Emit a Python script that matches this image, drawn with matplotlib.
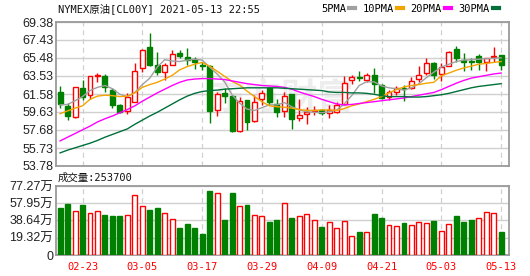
import numpy as np
import matplotlib.pyplot as plt
from matplotlib.lines import Line2D

# trading days shown (60 bars)
dates = ['02-18', '02-19', '02-22', '02-23', '02-24', '02-25', '02-26',
         '03-01', '03-02', '03-03', '03-04', '03-05',
         '03-08', '03-09', '03-10', '03-11', '03-12',
         '03-15', '03-16', '03-17', '03-18', '03-19',
         '03-22', '03-23', '03-24', '03-25', '03-26',
         '03-29', '03-30', '03-31', '04-01',
         '04-05', '04-06', '04-07', '04-08', '04-09',
         '04-12', '04-13', '04-14', '04-15', '04-16',
         '04-19', '04-20', '04-21', '04-22', '04-23',
         '04-26', '04-27', '04-28', '04-29', '04-30',
         '05-03', '05-04', '05-05', '05-06', '05-07',
         '05-10', '05-11', '05-12', '05-13']

opens = [61.76, 60.30, 59.06, 62.25, 61.47, 63.53, 63.50, 62.01, 60.34, 59.77,
         60.76, 64.35, 66.72, 64.74, 63.96, 64.77, 66.05, 65.62, 65.41, 64.77,
         64.56, 59.81, 61.72, 61.37, 57.57, 60.91, 58.64, 61.05, 62.25, 60.52,
         59.77, 61.58, 58.96, 59.42, 59.70, 59.88, 59.52, 59.63, 60.48, 63.07,
         63.42, 63.14, 63.60, 62.54, 61.30, 61.83, 62.18, 62.25, 63.25, 63.88,
         64.95, 63.78, 64.66, 66.44, 65.30, 65.13, 65.66, 65.02, 65.55, 65.84]
closes = [60.48, 59.17, 62.29, 61.30, 63.50, 63.60, 62.36, 60.37, 59.63, 61.23,
          64.10, 66.37, 64.77, 63.96, 64.74, 65.91, 65.66, 65.30, 65.09, 64.59,
          59.77, 61.58, 61.40, 57.57, 60.87, 58.53, 60.76, 61.65, 60.69, 59.59,
          61.37, 58.89, 59.35, 59.63, 59.88, 59.52, 59.88, 60.41, 62.82, 63.42,
          63.28, 63.60, 62.61, 61.19, 61.76, 62.25, 62.08, 62.99, 63.67, 64.95,
          63.67, 64.49, 66.15, 65.48, 65.02, 65.00, 65.09, 65.48, 65.73, 64.74]
highs = [62.43, 60.59, 62.32, 63.07, 63.53, 63.88, 63.74, 62.18, 60.48, 61.65,
         64.91, 66.44, 68.14, 66.08, 64.95, 66.37, 66.30, 66.51, 65.55, 65.09,
         64.74, 61.83, 62.25, 61.47, 61.30, 60.95, 61.47, 62.01, 62.36, 61.05,
         61.83, 61.58, 61.05, 60.13, 60.23, 59.99, 60.41, 60.76, 63.53, 63.60,
         64.03, 63.88, 64.42, 62.71, 62.01, 62.47, 62.54, 63.42, 64.56, 65.52,
         65.00, 64.91, 66.26, 66.79, 66.01, 65.44, 65.91, 65.48, 66.72, 65.84]
lows = [60.06, 58.74, 58.96, 60.94, 61.05, 62.89, 61.83, 60.06, 59.52, 59.42,
        60.69, 63.96, 64.66, 63.67, 63.14, 64.74, 65.48, 64.74, 64.24, 64.13,
        58.39, 59.17, 60.59, 57.50, 57.47, 57.64, 58.57, 60.41, 60.41, 59.06,
        59.06, 57.82, 58.64, 58.28, 59.35, 59.35, 58.99, 59.52, 60.41, 62.71,
        62.96, 62.89, 61.65, 61.05, 60.94, 61.47, 60.84, 62.11, 62.89, 63.67,
        63.18, 62.96, 64.59, 65.02, 64.06, 64.20, 64.13, 64.03, 65.02, 64.20]

# volume in 万
volumes = [52.6, 57.1, 48.9, 56.0, 47.0, 48.9, 44.8, 43.7, 43.7, 44.8,
           67.2, 54.9, 50.4, 52.3, 47.0, 39.9, 30.2, 34.7, 30.2, 23.5,
           71.7, 69.1, 39.2, 69.4, 54.9, 56.4, 44.8, 43.7, 37.3, 39.2,
           57.9, 41.4, 43.7, 45.9, 39.2, 31.4, 37.0, 30.2, 38.1, 21.3,
           25.8, 25.8, 45.9, 41.4, 33.6, 32.5, 35.8, 33.6, 37.0, 35.8,
           38.1, 26.9, 34.7, 43.7, 37.0, 39.2, 41.4, 48.2, 47.0, 25.37]

ma5 = [60.40, 60.45, 60.85, 61.30, 61.95, 62.30, 62.50, 62.15, 61.55, 61.30,
       61.75, 62.60, 63.30, 64.50, 65.30, 65.15, 65.10, 65.25, 65.35, 65.25,
       64.50, 63.75, 62.90, 61.50, 60.60, 59.95, 59.80, 60.10, 60.40, 60.40,
       60.65, 60.20, 59.85, 59.65, 59.60, 59.55, 59.65, 59.85, 60.50, 61.40,
       62.50, 62.90, 62.90, 62.45, 62.25, 62.15, 62.00, 62.25, 62.70, 63.35,
       63.95, 64.50, 64.80, 65.10, 65.25, 65.30, 65.35, 65.40, 65.45, 65.50]
ma10 = [59.45, 59.75, 60.05, 60.30, 61.00, 61.35, 61.45, 61.40, 61.30, 61.35,
        61.70, 62.30, 62.60, 62.85, 63.20, 63.60, 64.20, 64.55, 64.80, 65.00,
        64.60, 64.05, 63.50, 62.95, 62.55, 61.90, 61.30, 60.75, 60.30, 60.20,
        60.15, 60.05, 59.90, 59.80, 59.80, 59.85, 59.85, 59.80, 60.00, 60.30,
        60.50, 60.75, 61.00, 61.30, 61.70, 62.05, 62.35, 62.50, 62.60, 62.75,
        62.85, 63.55, 63.85, 64.15, 64.40, 64.60, 64.80, 64.90, 65.00, 65.10]
ma20 = [56.50, 56.90, 57.30, 57.70, 58.10, 58.55, 58.90, 59.20, 59.55, 59.90,
        60.30, 60.80, 61.25, 61.70, 62.10, 62.50, 62.85, 63.10, 63.20, 63.25,
        63.25, 63.20, 63.15, 63.00, 62.85, 62.70, 62.60, 62.50, 62.45, 62.40,
        62.30, 62.10, 61.80, 61.55, 61.30, 61.00, 60.75, 60.50, 60.40, 60.45,
        60.55, 60.65, 60.75, 60.85, 60.95, 61.05, 61.15, 61.30, 61.45, 61.60,
        61.75, 62.05, 62.40, 62.75, 63.05, 63.30, 63.45, 63.60, 63.75, 63.85]
ma30 = [55.20, 55.50, 55.75, 56.00, 56.25, 56.55, 56.90, 57.20, 57.50, 57.80,
        58.30, 58.75, 59.20, 59.60, 60.05, 60.50, 60.95, 61.35, 61.65, 61.85,
        61.95, 62.00, 62.10, 62.15, 62.20, 62.25, 62.25, 62.25, 62.25, 62.25,
        62.20, 62.15, 62.10, 62.05, 62.00, 61.95, 61.80, 61.75, 61.75, 61.70,
        61.70, 61.65, 61.55, 61.40, 61.30, 61.30, 61.30, 61.25, 61.25, 61.30,
        61.40, 61.50, 61.65, 61.85, 62.05, 62.25, 62.40, 62.50, 62.60, 62.70]

price_ticks = [53.78, 55.73, 57.68, 59.63, 61.58, 63.53, 65.48, 67.43, 69.38]
vol_ticks = [0, 19.32, 38.64, 57.95, 77.27]
vol_labels = ['0', '19.32万', '38.64万', '57.95万', '77.27万']
tick_idx = list(range(3, 60, 8))

RED = '#ff0000'
GREEN = '#008000'
FRAME = '#9a9a9a'
GRID = '#d0d0d0'
num_font = ['Liberation Sans', 'Noto Sans CJK SC']
mono_font = ['DejaVu Sans Mono', 'Noto Sans CJK SC']

x = np.arange(len(dates))
o = np.array(opens)
c = np.array(closes)
up = c >= o
prev = np.concatenate([[o[0]], c[:-1]])
vol_up = c > prev

fig = plt.figure(figsize=(5.3, 2.76), dpi=100)
ax = fig.add_axes([56/530, 1-166/276, 453/530, 144/276])
axv = fig.add_axes([56/530, 1-255/276, 453/530, 69/276])

for a in (ax, axv):
    for s in a.spines.values():
        s.set_color(FRAME)
        s.set_linewidth(1.3)
    a.tick_params(length=0)
    a.set_xlim(-0.55, 60.05)
    a.set_xticks(tick_idx)
    for i in tick_idx:
        a.axvline(i, color=GRID, lw=0.9, ls=(0, (4, 3)), zorder=0)

# watermark
ax.text(0.5, 0.47, '东方财富', transform=ax.transAxes, ha='center', va='center',
        fontsize=26, fontweight='bold', color='#ededed', family='Noto Sans CJK SC', zorder=0)

# price panel
ax.set_ylim(53.78, 69.38)
ax.set_yticks(price_ticks)
ax.set_yticklabels(['%.2f' % v for v in price_ticks], family=num_font, fontsize=9, color='#222222')
ax.tick_params(axis='y', pad=2)
ax.set_xticklabels([])
ax.grid(axis='y', color=GRID, lw=1, zorder=0)

w = 0.66
ax.vlines(x, lows, highs, colors=np.where(up, RED, GREEN), lw=1, zorder=2)
ax.bar(x, np.maximum(np.abs(c - o), 0.04), bottom=np.minimum(o, c), width=w,
       color=np.where(up, 'white', GREEN), edgecolor=np.where(up, RED, GREEN),
       linewidth=1, zorder=3)

ax.plot(x, ma5, color='#a0a0a0', lw=1, zorder=4)
ax.plot(x, ma10, color='#f5a300', lw=1, zorder=4)
ax.plot(x, ma20, color='#ff00ff', lw=1, zorder=4)
ax.plot(x, ma30, color='#00703a', lw=1, zorder=4)

# volume panel
axv.set_ylim(0, 77.27)
axv.set_yticks(vol_ticks)
axv.set_yticklabels(vol_labels, family=num_font, fontsize=9, color='#222222')
axv.tick_params(axis='y', pad=2)
axv.set_xticklabels([dates[i] for i in tick_idx], family=mono_font, fontsize=7.5, color=RED)
axv.tick_params(axis='x', pad=5)
axv.grid(axis='y', color=GRID, lw=1, zorder=0)
axv.bar(x, volumes, width=w, color=np.where(vol_up, 'white', GREEN),
        edgecolor=np.where(vol_up, RED, GREEN), linewidth=1, zorder=3)

# texts
fig.text(58/530, 1-9/276, 'NYMEX原油[CL00Y] 2021-05-13 22:55', family=mono_font,
         fontsize=7.5, va='center', ha='left', color='#111111')
fig.text(58/530, 1-178/276, '成交量:253700', family=mono_font,
         fontsize=7.5, va='center', ha='left', color='#111111')

handles = [Line2D([], [], color=col, lw=3) for col in ['#a0a0a0', '#f5a300', '#ff00ff', '#00703a']]
fig.legend(handles, ['5PMA', '10PMA', '20PMA', '30PMA'], loc='center right',
           bbox_to_anchor=(499/530, 1-9/276), ncol=4, frameon=False, markerfirst=False,
           handlelength=0.6, handletextpad=0.3, columnspacing=0.7, borderpad=0,
           borderaxespad=0, prop={'family': mono_font, 'size': 7.5})

fig.savefig('out.png', dpi=100)
